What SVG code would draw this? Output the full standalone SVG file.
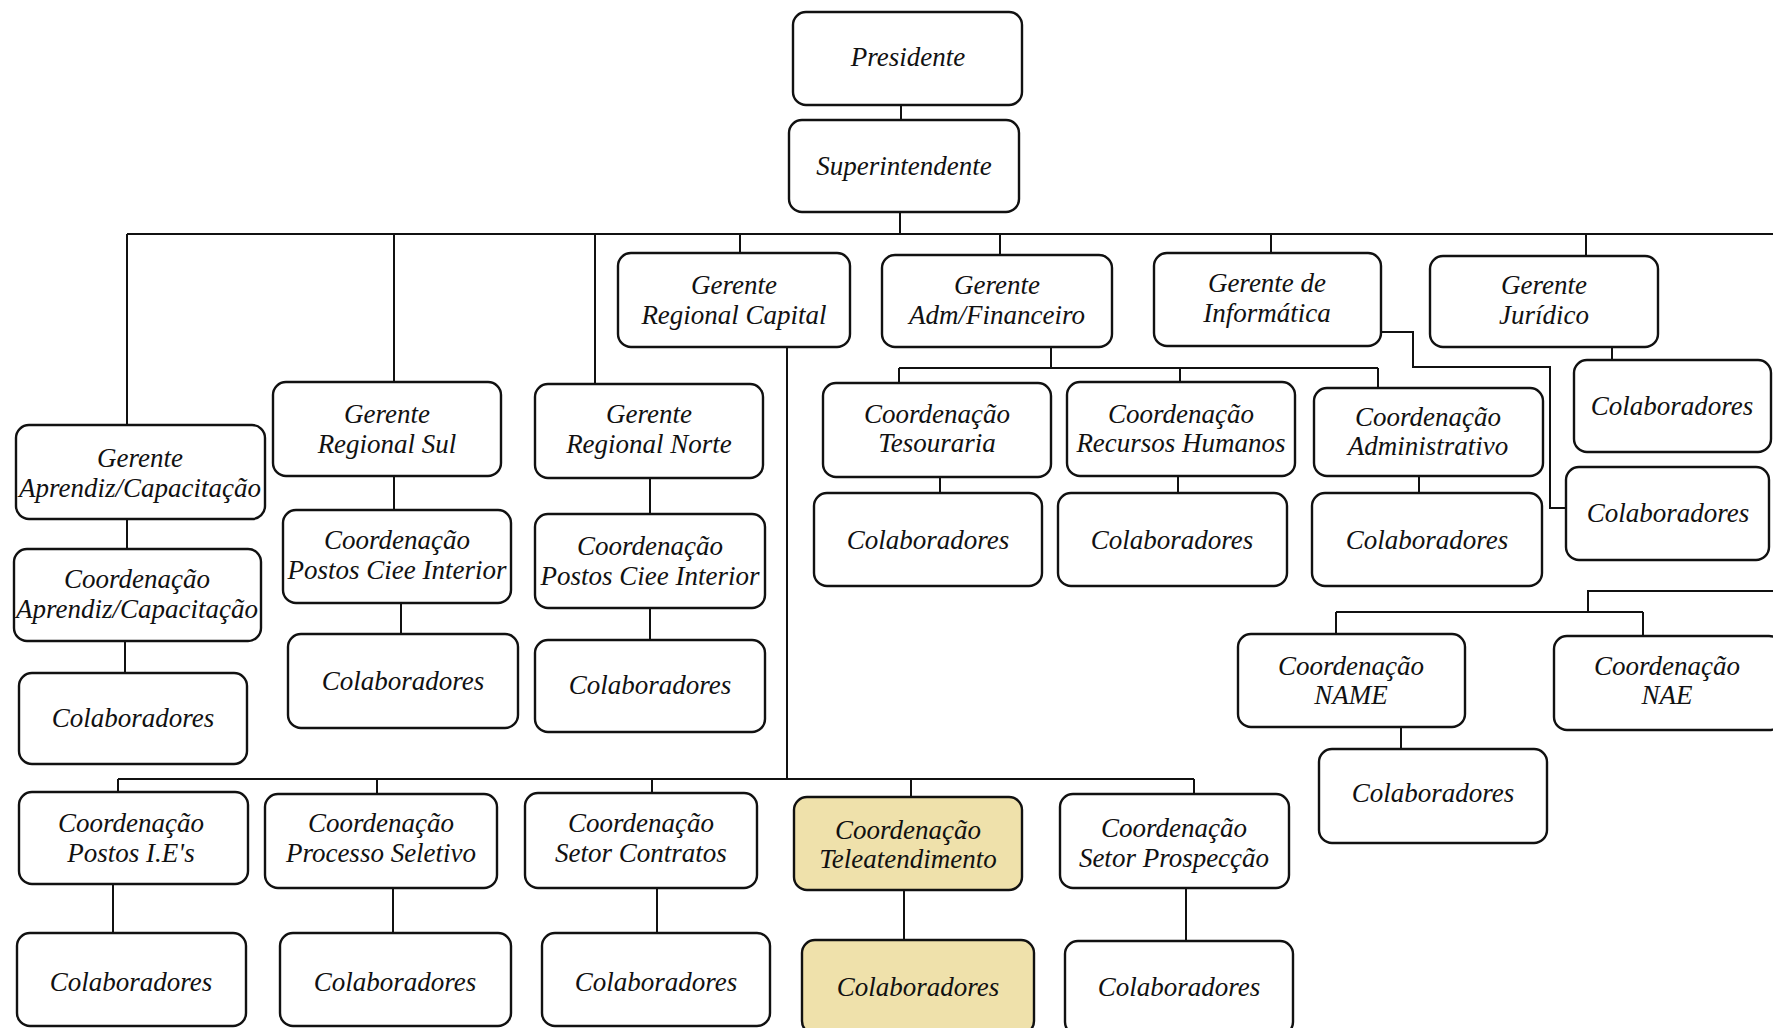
<svg xmlns="http://www.w3.org/2000/svg" width="1773" height="1028" viewBox="0 0 1773 1028">
  <style>
    .box { fill: #ffffff; stroke: #111111; stroke-width: 2.4; }
    .hl { fill: #efe1ab; }
    .lbl { font-family: "Liberation Serif", "DejaVu Serif", serif; font-style: italic; font-size: 27px; fill: #111111; text-anchor: middle; }
    .wire { fill: none; stroke: #111111; stroke-width: 2; }
  </style>
  <rect x="0" y="0" width="1773" height="1028" fill="#ffffff"/>

  <!-- connectors -->
  <g id="connectors" class="wire">
    <path d="M901 105 V120"/>
    <path d="M900 212 V234"/>
    <path d="M127 234 H1773"/>
    <path d="M127 234 V425"/>
    <path d="M394 234 V382"/>
    <path d="M595 234 V384"/>
    <path d="M740 234 V253"/>
    <path d="M1000 234 V255"/>
    <path d="M1271 234 V253"/>
    <path d="M1586 234 V256"/>
    <!-- aprendiz branch -->
    <path d="M127 519 V549"/>
    <path d="M125 641 V673"/>
    <!-- regional sul -->
    <path d="M394 476 V510"/>
    <path d="M401 603 V634"/>
    <!-- regional norte -->
    <path d="M650 478 V514"/>
    <path d="M650 608 V640"/>
    <!-- regional capital -->
    <path d="M787 347 V779"/>
    <path d="M118 779 H1194"/>
    <path d="M118 779 V792"/>
    <path d="M377 779 V794"/>
    <path d="M652 779 V793"/>
    <path d="M911 779 V797"/>
    <path d="M1194 779 V794"/>
    <path d="M113 884 V933"/>
    <path d="M393 888 V933"/>
    <path d="M657 888 V933"/>
    <path d="M904 890 V940"/>
    <path d="M1186 888 V941"/>
    <!-- adm/financeiro -->
    <path d="M1051 347 V368"/>
    <path d="M899 368 H1378"/>
    <path d="M899 368 V383"/>
    <path d="M1180 368 V382"/>
    <path d="M1378 368 V388"/>
    <path d="M940 477 V493"/>
    <path d="M1178 476 V493"/>
    <path d="M1419 476 V493"/>
    <!-- informatica -->
    <path d="M1381 332 H1413 V367 H1550 V508 H1566"/>
    <!-- juridico -->
    <path d="M1612 347 V360"/>
    <!-- NAME / NAE -->
    <path d="M1773 591 H1588 V612"/>
    <path d="M1336 612 H1643"/>
    <path d="M1336 612 V634"/>
    <path d="M1643 612 V636"/>
    <path d="M1401 727 V749"/>
  </g>

  <!-- top -->
  <g id="n-presidente">
    <rect class="box" x="793" y="12" width="229" height="93" rx="13"/>
    <text class="lbl" x="908" y="66">Presidente</text>
  </g>
  <g id="n-superintendente">
    <rect class="box" x="789" y="120" width="230" height="92" rx="13"/>
    <text class="lbl" x="904" y="175">Superintendente</text>
  </g>

  <!-- gerentes -->
  <g id="n-ger-capital">
    <rect class="box" x="618" y="253" width="232" height="94" rx="13"/>
    <text class="lbl" x="734" y="294">Gerente</text>
    <text class="lbl" x="734" y="324">Regional Capital</text>
  </g>
  <g id="n-ger-admfin">
    <rect class="box" x="882" y="255" width="230" height="92" rx="13"/>
    <text class="lbl" x="997" y="294">Gerente</text>
    <text class="lbl" x="997" y="324">Adm/Financeiro</text>
  </g>
  <g id="n-ger-info">
    <rect class="box" x="1154" y="253" width="227" height="93" rx="13"/>
    <text class="lbl" x="1267" y="292">Gerente de</text>
    <text class="lbl" x="1267" y="322">Informática</text>
  </g>
  <g id="n-ger-juridico">
    <rect class="box" x="1430" y="256" width="228" height="91" rx="13"/>
    <text class="lbl" x="1544" y="294">Gerente</text>
    <text class="lbl" x="1544" y="324">Jurídico</text>
  </g>
  <g id="n-ger-aprendiz">
    <rect class="box" x="16" y="425" width="249" height="94" rx="13"/>
    <text class="lbl" x="140" y="467">Gerente</text>
    <text class="lbl" x="140" y="497">Aprendiz/Capacitação</text>
  </g>
  <g id="n-ger-sul">
    <rect class="box" x="273" y="382" width="228" height="94" rx="13"/>
    <text class="lbl" x="387" y="423">Gerente</text>
    <text class="lbl" x="387" y="453">Regional Sul</text>
  </g>
  <g id="n-ger-norte">
    <rect class="box" x="535" y="384" width="228" height="94" rx="13"/>
    <text class="lbl" x="649" y="423">Gerente</text>
    <text class="lbl" x="649" y="453">Regional Norte</text>
  </g>

  <!-- aprendiz / sul / norte -->
  <g id="n-coord-aprendiz">
    <rect class="box" x="14" y="549" width="247" height="92" rx="13"/>
    <text class="lbl" x="137" y="588">Coordenação</text>
    <text class="lbl" x="137" y="618">Aprendiz/Capacitação</text>
  </g>
  <g id="n-colab-aprendiz">
    <rect class="box" x="19" y="673" width="228" height="91" rx="13"/>
    <text class="lbl" x="133" y="727">Colaboradores</text>
  </g>
  <g id="n-coord-sul">
    <rect class="box" x="283" y="510" width="228" height="93" rx="13"/>
    <text class="lbl" x="397" y="549">Coordenação</text>
    <text class="lbl" x="397" y="579">Postos Ciee Interior</text>
  </g>
  <g id="n-colab-sul">
    <rect class="box" x="288" y="634" width="230" height="94" rx="13"/>
    <text class="lbl" x="403" y="690">Colaboradores</text>
  </g>
  <g id="n-coord-norte">
    <rect class="box" x="535" y="514" width="230" height="94" rx="13"/>
    <text class="lbl" x="650" y="555">Coordenação</text>
    <text class="lbl" x="650" y="585">Postos Ciee Interior</text>
  </g>
  <g id="n-colab-norte">
    <rect class="box" x="535" y="640" width="230" height="92" rx="13"/>
    <text class="lbl" x="650" y="694">Colaboradores</text>
  </g>

  <!-- adm/financeiro -->
  <g id="n-coord-tesouraria">
    <rect class="box" x="823" y="383" width="228" height="94" rx="13"/>
    <text class="lbl" x="937" y="423">Coordenação</text>
    <text class="lbl" x="937" y="452">Tesouraria</text>
  </g>
  <g id="n-coord-rh">
    <rect class="box" x="1067" y="382" width="228" height="94" rx="13"/>
    <text class="lbl" x="1181" y="423">Coordenação</text>
    <text class="lbl" x="1181" y="452">Recursos Humanos</text>
  </g>
  <g id="n-coord-adm">
    <rect class="box" x="1314" y="388" width="229" height="88" rx="13"/>
    <text class="lbl" x="1428" y="426">Coordenação</text>
    <text class="lbl" x="1428" y="455">Administrativo</text>
  </g>
  <g id="n-colab-tesouraria">
    <rect class="box" x="814" y="493" width="228" height="93" rx="13"/>
    <text class="lbl" x="928" y="549">Colaboradores</text>
  </g>
  <g id="n-colab-rh">
    <rect class="box" x="1058" y="493" width="229" height="93" rx="13"/>
    <text class="lbl" x="1172" y="549">Colaboradores</text>
  </g>
  <g id="n-colab-adm">
    <rect class="box" x="1312" y="493" width="230" height="93" rx="13"/>
    <text class="lbl" x="1427" y="549">Colaboradores</text>
  </g>

  <!-- informatica / juridico -->
  <g id="n-colab-juridico">
    <rect class="box" x="1574" y="360" width="197" height="92" rx="13"/>
    <text class="lbl" x="1672" y="415">Colaboradores</text>
  </g>
  <g id="n-colab-info">
    <rect class="box" x="1566" y="467" width="203" height="93" rx="13"/>
    <text class="lbl" x="1668" y="522">Colaboradores</text>
  </g>

  <!-- NAME / NAE -->
  <g id="n-coord-name">
    <rect class="box" x="1238" y="634" width="227" height="93" rx="13"/>
    <text class="lbl" x="1351" y="675">Coordenação</text>
    <text class="lbl" x="1351" y="704">NAME</text>
  </g>
  <g id="n-coord-nae">
    <rect class="box" x="1554" y="636" width="228" height="94" rx="13"/>
    <text class="lbl" x="1667" y="675">Coordenação</text>
    <text class="lbl" x="1667" y="704">NAE</text>
  </g>
  <g id="n-colab-name">
    <rect class="box" x="1319" y="749" width="228" height="94" rx="13"/>
    <text class="lbl" x="1433" y="802">Colaboradores</text>
  </g>

  <!-- regional capital coordinations -->
  <g id="n-coord-ies">
    <rect class="box" x="19" y="792" width="229" height="92" rx="13"/>
    <text class="lbl" x="131" y="832">Coordenação</text>
    <text class="lbl" x="131" y="862">Postos I.E's</text>
  </g>
  <g id="n-coord-processo">
    <rect class="box" x="265" y="794" width="232" height="94" rx="13"/>
    <text class="lbl" x="381" y="832">Coordenação</text>
    <text class="lbl" x="381" y="862">Processo Seletivo</text>
  </g>
  <g id="n-coord-contratos">
    <rect class="box" x="525" y="793" width="232" height="95" rx="13"/>
    <text class="lbl" x="641" y="832">Coordenação</text>
    <text class="lbl" x="641" y="862">Setor Contratos</text>
  </g>
  <g id="n-coord-tele">
    <rect class="box hl" x="794" y="797" width="228" height="93" rx="13"/>
    <text class="lbl" x="908" y="839">Coordenação</text>
    <text class="lbl" x="908" y="868">Teleatendimento</text>
  </g>
  <g id="n-coord-prospeccao">
    <rect class="box" x="1060" y="794" width="229" height="94" rx="13"/>
    <text class="lbl" x="1174" y="837">Coordenação</text>
    <text class="lbl" x="1174" y="867">Setor Prospecção</text>
  </g>
  <g id="n-colab-ies">
    <rect class="box" x="17" y="933" width="229" height="93" rx="13"/>
    <text class="lbl" x="131" y="991">Colaboradores</text>
  </g>
  <g id="n-colab-processo">
    <rect class="box" x="280" y="933" width="231" height="93" rx="13"/>
    <text class="lbl" x="395" y="991">Colaboradores</text>
  </g>
  <g id="n-colab-contratos">
    <rect class="box" x="542" y="933" width="228" height="93" rx="13"/>
    <text class="lbl" x="656" y="991">Colaboradores</text>
  </g>
  <g id="n-colab-tele">
    <rect class="box hl" x="802" y="940" width="232" height="94" rx="13"/>
    <text class="lbl" x="918" y="996">Colaboradores</text>
  </g>
  <g id="n-colab-prospeccao">
    <rect class="box" x="1065" y="941" width="228" height="94" rx="13"/>
    <text class="lbl" x="1179" y="996">Colaboradores</text>
  </g>
</svg>
